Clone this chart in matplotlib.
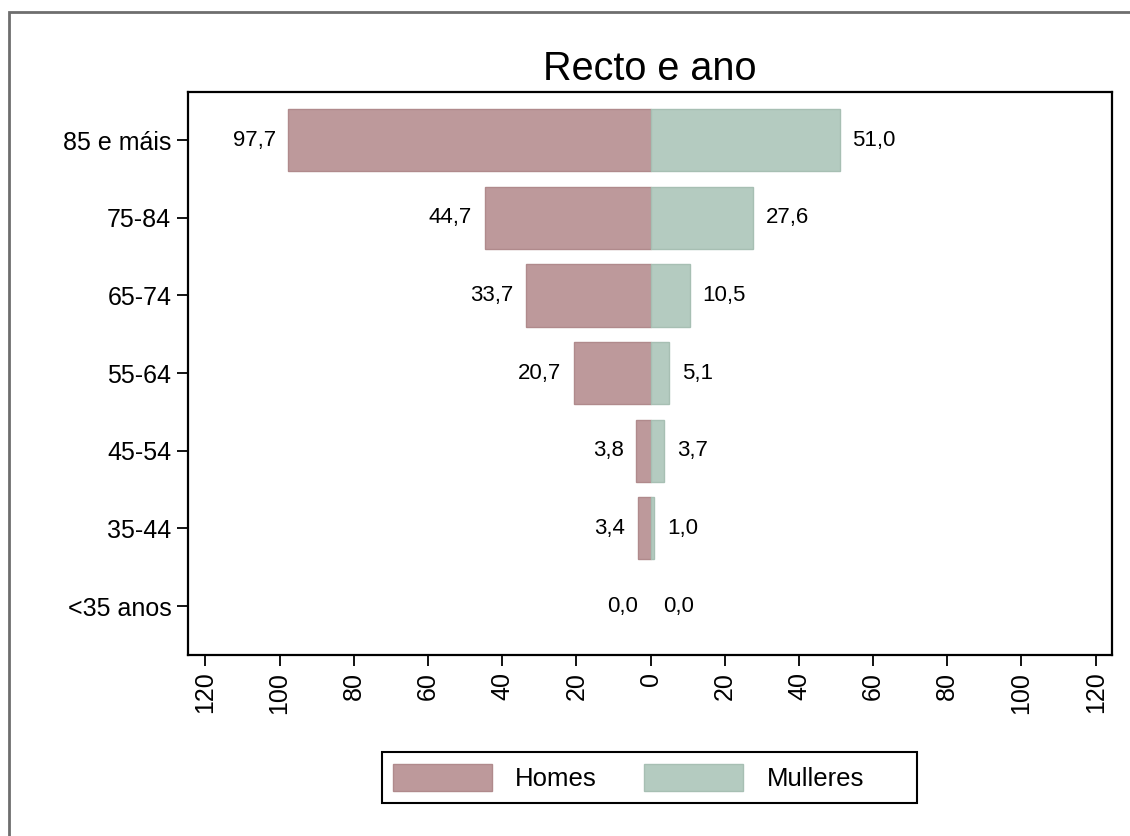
import matplotlib
matplotlib.use("Agg")
import matplotlib.pyplot as plt
from matplotlib.patches import Rectangle, Patch

plt.rcParams['font.family'] = ['Liberation Sans', 'DejaVu Sans']

# Age groups, top to bottom
age_groups = ["85 e máis", "75-84", "65-74", "55-64", "45-54", "35-44", "<35 anos"]
homes = [97.7, 44.7, 33.7, 20.7, 3.8, 3.4, 0.0]
mulleres = [51.0, 27.6, 10.5, 5.1, 3.7, 1.0, 0.0]
x_ticks = [-120, -100, -80, -60, -40, -20, 0, 20, 40, 60, 80, 100, 120]

col_homes = "#bd999b"
edge_homes = "#b08a8c"
col_mull = "#b4cbc0"
edge_mull = "#a7bfb3"

W, H = 1130, 836
fig = plt.figure(figsize=(W / 100, H / 100), dpi=100)
fig.patch.set_facecolor("white")

# Outer frame of the graph region
fig.patches.append(Rectangle((9 / W, -0.2), 1.2, 1.2 - 12 / H,
                             transform=fig.transFigure, fill=False,
                             edgecolor="#6e6e6e", linewidth=2.0, zorder=0))

ax = fig.add_axes([188 / W, 1 - 655 / H, (1112 - 188) / W, (655 - 92) / H])

pos = list(range(len(age_groups)))
ax.barh(pos, [-v for v in homes], height=0.8, color=col_homes,
        edgecolor=edge_homes, linewidth=[1.0 if v > 0 else 0 for v in homes])
ax.barh(pos, mulleres, height=0.8, color=col_mull,
        edgecolor=edge_mull, linewidth=[1.0 if v > 0 else 0 for v in mulleres])

def fmt(v):
    return f"{v:.1f}".replace(".", ",")

for p, vh, vm in zip(pos, homes, mulleres):
    ax.annotate(fmt(vh), (-vh, p), xytext=(-9, 0), textcoords="offset points",
                ha="right", va="center", fontsize=16)
    ax.annotate(fmt(vm), (vm, p), xytext=(9, 0), textcoords="offset points",
                ha="left", va="center", fontsize=16)

ax.set_xlim(-124.7, 124.4)
ax.set_ylim(6.63, -0.62)
ax.set_yticks(pos)
ax.set_yticklabels(age_groups, fontsize=18)
ax.set_xticks(x_ticks)
ax.set_xticklabels([str(abs(t)) for t in x_ticks], rotation=90, fontsize=18)
ax.tick_params(axis="both", direction="out", length=8, width=1.3, pad=4)

for s in ax.spines.values():
    s.set_linewidth(1.6)
    s.set_color("black")

fig.text(650 / W, 1 - 80 / H, "Recto e ano", ha="center", va="baseline",
         fontsize=28.5)

# Legend: entries without frame, with a separate box around them
handles = [Patch(facecolor=col_homes, edgecolor=edge_homes, label="Homes"),
           Patch(facecolor=col_mull, edgecolor=edge_mull, label="Mulleres")]
leg = fig.legend(handles=handles, loc="center left", ncol=2,
                 bbox_to_anchor=(370 / W, 1 - 777.5 / H),
                 bbox_transform=fig.transFigure, fontsize=18.5,
                 handlelength=3.85, handleheight=1.25, handletextpad=0.9,
                 columnspacing=1.85, borderpad=0.4, frameon=False)
fig.patches.append(Rectangle((382 / W, 1 - 803 / H), (917 - 382) / W,
                             (803 - 752) / H, transform=fig.transFigure,
                             fill=False, edgecolor="black", linewidth=1.5))

fig.savefig("out.png", dpi=100, facecolor="white")
